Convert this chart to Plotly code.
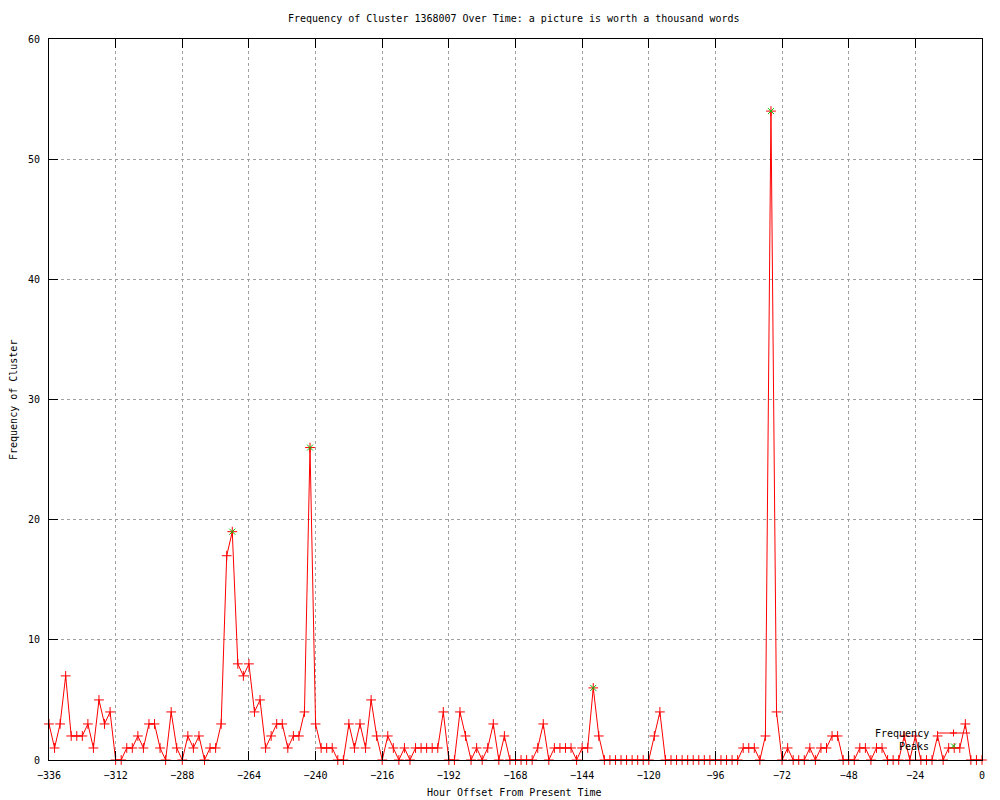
import plotly.graph_objects as go

# Data
hours = list(range(-336, 1, 2))
frequency = [
    3, 1, 3, 7, 2, 2, 2, 3, 1, 5, 3, 4,          # -336 .. -314
    0, 0, 1, 1, 2, 1, 3, 3, 1, 0, 4, 1,          # -312 .. -290
    0, 2, 1, 2, 0, 1, 1, 3, 17, 19, 8, 7,        # -288 .. -266
    8, 4, 5, 1, 2, 3, 3, 1, 2, 2, 4, 26,         # -264 .. -242
    3, 1, 1, 1, 0, 0, 3, 1, 3, 1, 5, 2,          # -240 .. -218
    0, 2, 1, 0, 1, 0, 1, 1, 1, 1, 1, 4,          # -216 .. -194
    0, 0, 4, 2, 0, 1, 0, 1, 3, 0, 2, 0,          # -192 .. -170
    0, 0, 0, 0, 1, 3, 0, 1, 1, 1, 1, 0,          # -168 .. -146
    1, 1, 6, 2, 0, 0, 0, 0, 0, 0, 0, 0,          # -144 .. -122
    0, 2, 4, 0, 0, 0, 0, 0, 0, 0, 0, 0,          # -120 .. -98
    0, 0, 0, 0, 0, 1, 1, 1, 0, 2, 54, 4,         # -96 .. -74
    0, 1, 0, 0, 0, 1, 0, 1, 1, 2, 2, 0,          # -72 .. -50
    0, 0, 1, 1, 0, 1, 1, 0, 0, 0, 2, 0,          # -48 .. -26
    2, 0, 0, 0, 2, 0, 1, 1, 1, 3, 0, 0,          # -24 .. -2
    0,                                           # 0
]
peak_hours = [-270, -242, -140, -76]
peak_values = [19, 26, 6, 54]

x_ticks = list(range(-336, 1, 24))
y_ticks = list(range(0, 61, 10))

title_text = "Frequency of Cluster 1368007 Over Time: a picture is worth a thousand words"
x_label = "Hour Offset From Present Time"
y_label = "Frequency of Cluster"

RED = "#ff0000"
GREEN = "#00c000"
FONT = "DejaVu Sans Mono"

fig = go.Figure()
fig.add_trace(go.Scatter(
    x=hours, y=frequency, mode="lines+markers", name="Frequency",
    line=dict(color=RED, width=1),
    marker=dict(symbol="cross-thin", size=7, line=dict(color=RED, width=1)),
    cliponaxis=False, showlegend=False,
))
fig.add_trace(go.Scatter(
    x=peak_hours, y=peak_values, mode="markers", name="Peaks",
    marker=dict(symbol="x-thin", size=6, line=dict(color=GREEN, width=1)),
    cliponaxis=False, showlegend=False,
))

axis_common = dict(
    showline=True, linecolor="black", linewidth=1, mirror="ticks",
    ticks="inside", ticklen=9, tickcolor="black", tickwidth=1,
    showgrid=True, gridcolor="#a0a0a0", griddash="dot", gridwidth=1,
    zeroline=False, tickfont=dict(family=FONT, size=10, color="black"),
)
fig.update_xaxes(range=[-336, 0], tickvals=x_ticks, ticklabelstandoff=6, **axis_common)
fig.update_yaxes(range=[0, 60], tickvals=y_ticks, ticklabelstandoff=6, **axis_common)

# The page adds an 8px body margin; work in page pixels and shift.
OFF = 8
W, H = 1000 - OFF, 800 - OFF
L, R, T, B = 49 - OFF, 18, 39 - OFF, 40
pw, ph = W - L - R, H - T - B

def px(xp):
    return (xp - OFF - L) / pw

def py(yp):
    return (H - B - (yp - OFF)) / ph

annotations = [
    dict(text=title_text, x=px(514), y=py(18), xref="paper", yref="paper",
         xanchor="center", yanchor="middle", showarrow=False,
         font=dict(family=FONT, size=10, color="black")),
    dict(text=x_label, x=px(514), y=py(792), xref="paper", yref="paper",
         xanchor="center", yanchor="middle", showarrow=False,
         font=dict(family=FONT, size=10, color="black")),
    dict(text=y_label, x=px(13), y=py(400), xref="paper", yref="paper",
         xanchor="center", yanchor="middle", textangle=-90, showarrow=False,
         font=dict(family=FONT, size=10, color="black")),
    dict(text="Frequency", x=px(931), y=py(733), xref="paper", yref="paper",
         xanchor="right", yanchor="middle", showarrow=False,
         font=dict(family=FONT, size=10, color="black")),
    dict(text="Peaks", x=px(931), y=py(746), xref="paper", yref="paper",
         xanchor="right", yanchor="middle", showarrow=False,
         font=dict(family=FONT, size=10, color="black")),
]

# Legend keys (gnuplot style: text on the left, sample on the right)
shapes = [
    dict(type="line", xref="paper", yref="paper", x0=px(937), x1=px(970),
         y0=py(733), y1=py(733), line=dict(color=RED, width=1)),
    dict(type="line", xref="paper", yref="paper", x0=px(950), x1=px(957),
         y0=py(733), y1=py(733), line=dict(color=RED, width=1)),
    dict(type="line", xref="paper", yref="paper", x0=px(953.5), x1=px(953.5),
         y0=py(729.5), y1=py(736.5), line=dict(color=RED, width=1)),
    dict(type="line", xref="paper", yref="paper", x0=px(951), x1=px(956),
         y0=py(743.5), y1=py(748.5), line=dict(color=GREEN, width=1)),
    dict(type="line", xref="paper", yref="paper", x0=px(951), x1=px(956),
         y0=py(748.5), y1=py(743.5), line=dict(color=GREEN, width=1)),
]

fig.update_layout(
    width=W, height=H,
    margin=dict(l=L, r=R, t=T, b=B),
    paper_bgcolor="white", plot_bgcolor="white",
    annotations=annotations, shapes=shapes,
    showlegend=False,
)

fig.write_html("out.html")
